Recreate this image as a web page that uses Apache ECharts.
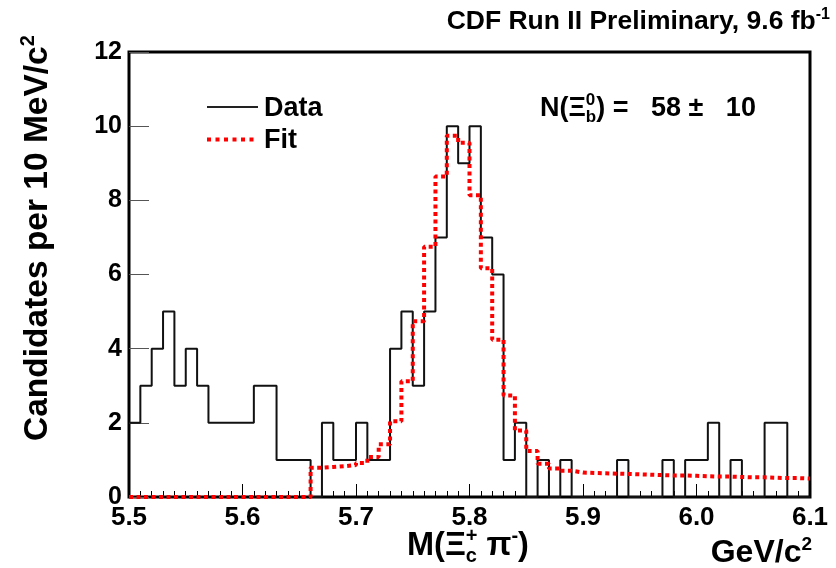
<!DOCTYPE html>
<html>
<head>
<meta charset="utf-8">
<script src="https://cdn.jsdelivr.net/npm/echarts@6/dist/echarts.min.js"></script>
<style>
  html, body { margin: 0; padding: 0; background: #fff; }
  #chart { width: 836px; height: 568px; }
</style>
</head>
<body>
<div id="chart"></div>
<script>
// Invariant-mass histogram of Xi_c+ pi- candidates, 10 MeV bins from 5.50 to 6.10 GeV
const binLow = 5.5;
const binWidth = 0.01;

// Candidates per bin (60 bins)
const counts = [
  2, 3, 4, 5, 3, 4, 3, 2, 2, 2,
  2, 3, 3, 1, 1, 1, 0, 2, 1, 1,
  2, 1, 1, 4, 5, 3, 5, 7, 10, 9,
  10, 7, 6, 1, 2, 0, 1, 0, 1, 0,
  0, 0, 0, 1, 0, 0, 0, 1, 0, 1,
  1, 2, 0, 1, 0, 0, 2, 2, 0, 0
];

// Fit result per bin (signal + background)
const fitValues = [
  0, 0, 0, 0, 0, 0, 0, 0, 0, 0,
  0, 0, 0, 0, 0, 0, 0.79, 0.81, 0.83, 0.86,
  0.92, 1.08, 1.42, 2.04, 3.12, 4.74, 6.75, 8.64, 9.74, 9.55,
  8.14, 6.17, 4.24, 2.74, 1.79, 1.24, 0.90, 0.77, 0.71, 0.66,
  0.65, 0.64, 0.63, 0.62, 0.61, 0.60, 0.59, 0.58, 0.58, 0.57,
  0.56, 0.55, 0.55, 0.54, 0.53, 0.53, 0.52, 0.51, 0.51, 0.50
];

const xTickLabels = ['5.5', '5.6', '5.7', '5.8', '5.9', '6.0', '6.1'];
const yTickLabels = ['0', '2', '4', '6', '8', '10', '12'];

const FONT = '"Liberation Sans", Arial, Helvetica, sans-serif';

// Bin edges paired with bin contents, for a step outline
function stepPoints(values) {
  const pts = values.map((v, i) => [+(binLow + i * binWidth).toFixed(2), v]);
  pts.push([+(binLow + values.length * binWidth).toFixed(2), values[values.length - 1]]);
  return pts;
}

// Text measuring for laying out formulas with sub/superscripts
const measureCtx = document.createElement('canvas').getContext('2d');
function textWidth(t, size) {
  measureCtx.font = 'bold ' + size + 'px ' + FONT;
  return measureCtx.measureText(t).width;
}
function textEl(t, x, baseline, size, color) {
  return {
    type: 'text',
    x: x,
    y: baseline - 0.35 * size,
    style: {
      text: t,
      font: 'bold ' + size + 'px ' + FONT,
      fill: color || '#000',
      align: 'left',
      verticalAlign: 'middle'
    }
  };
}
// parts: {t, size, rise} or {sup, sub, size, supRise, subDrop}
function formula(x0, baseline, parts) {
  const els = [];
  let x = x0;
  parts.forEach(p => {
    if (p.t !== undefined) {
      els.push(textEl(p.t, x, baseline - (p.rise || 0), p.size));
      x += textWidth(p.t, p.size);
    } else {
      els.push(textEl(p.sup, x, baseline - p.supRise, p.size));
      els.push(textEl(p.sub, x, baseline + p.subDrop, p.size));
      x += Math.max(textWidth(p.sup, p.size), textWidth(p.sub, p.size));
    }
  });
  return { els: els, width: x - x0 };
}
function formulaWidth(parts) {
  return formula(0, 0, parts).width;
}

const graphics = [];

// Header, right aligned
const headParts = [
  { t: 'CDF Run II Preliminary, 9.6 fb', size: 26.5 },
  { t: '-1', size: 16, rise: 11 }
];
graphics.push(...formula(830 - formulaWidth(headParts), 31, headParts).els);

// Y axis title, rotated
const yTitle = formula(0, 0, [
  { t: 'Candidates per 10 MeV/c', size: 33.5 },
  { t: '2', size: 20, rise: 14 }
]);
graphics.push({
  type: 'group',
  x: 49,
  y: 441,
  rotation: Math.PI / 2,
  children: yTitle.els
});

// X axis title
graphics.push(...formula(407, 557, [
  { t: 'M(\u039E', size: 32.5 },
  { sup: '+', sub: 'c', size: 20, supRise: 14, subDrop: 6 },
  { t: ' \u03C0', size: 32.5 },
  { t: '-', size: 20, rise: 14 },
  { t: ')', size: 32.5 }
]).els);
const unitParts = [
  { t: 'GeV/c', size: 32 },
  { t: '2', size: 19, rise: 13 }
];
graphics.push(...formula(812 - formulaWidth(unitParts), 564, unitParts).els);

// Legend
graphics.push({
  type: 'line',
  shape: { x1: 207, y1: 107, x2: 258, y2: 107 },
  style: { stroke: '#222', lineWidth: 2 }
});
graphics.push(textEl('Data', 264, 118, 27));
graphics.push({
  type: 'line',
  shape: { x1: 207, y1: 139.5, x2: 258, y2: 139.5 },
  style: { stroke: '#ff0000', lineWidth: 4, lineDash: [4, 4.5] }
});
graphics.push(textEl('Fit', 264, 150, 27));

// Fitted yield
graphics.push(...formula(540, 118, [
  { t: 'N(\u039E', size: 27 },
  { sup: '0', sub: 'b', size: 17, supRise: 12, subDrop: 5 },
  { t: ') =   58 \u00B1   10', size: 27 }
]).els);

const chart = echarts.init(document.getElementById('chart'), null, { renderer: 'canvas' });
chart.setOption({
  animation: false,
  backgroundColor: '#fff',
  grid: {
    left: 129, right: 26, top: 52, bottom: 71,
    show: true, borderColor: '#000', borderWidth: 3, backgroundColor: 'transparent'
  },
  xAxis: {
    type: 'value',
    min: 5.5, max: 6.1, interval: 0.1,
    axisLine: { show: false },
    axisTick: { show: true, inside: true, length: 13, lineStyle: { color: '#000', width: 1 } },
    minorTick: { show: true, splitNumber: 10, length: 6, lineStyle: { color: '#000', width: 1 } },
    splitLine: { show: false },
    minorSplitLine: { show: false },
    axisLabel: {
      color: '#000', fontFamily: FONT, fontWeight: 'bold', fontSize: 26, margin: 8,
      formatter: (v) => xTickLabels[Math.round((v - binLow) * 10)]
    }
  },
  yAxis: {
    type: 'value',
    min: 0, max: 12, interval: 2,
    axisLine: { show: false },
    axisTick: { show: true, inside: true, length: 20, lineStyle: { color: '#555', width: 1 } },
    splitLine: { show: false },
    axisLabel: {
      color: '#000', fontFamily: FONT, fontWeight: 'bold', fontSize: 25, margin: 7,
      formatter: (v) => yTickLabels[Math.round(v / 2)]
    }
  },
  series: [
    {
      name: 'Data',
      type: 'line',
      step: 'end',
      data: stepPoints(counts),
      symbol: 'none',
      lineStyle: { color: '#111', width: 2 },
      z: 3
    },
    {
      name: 'Fit',
      type: 'line',
      step: 'end',
      data: stepPoints(fitValues),
      symbol: 'none',
      clip: false,
      lineStyle: { color: '#ff0000', width: 4, type: [4, 3.5] },
      z: 4
    }
  ],
  graphic: graphics
});
</script>
</body>
</html>
